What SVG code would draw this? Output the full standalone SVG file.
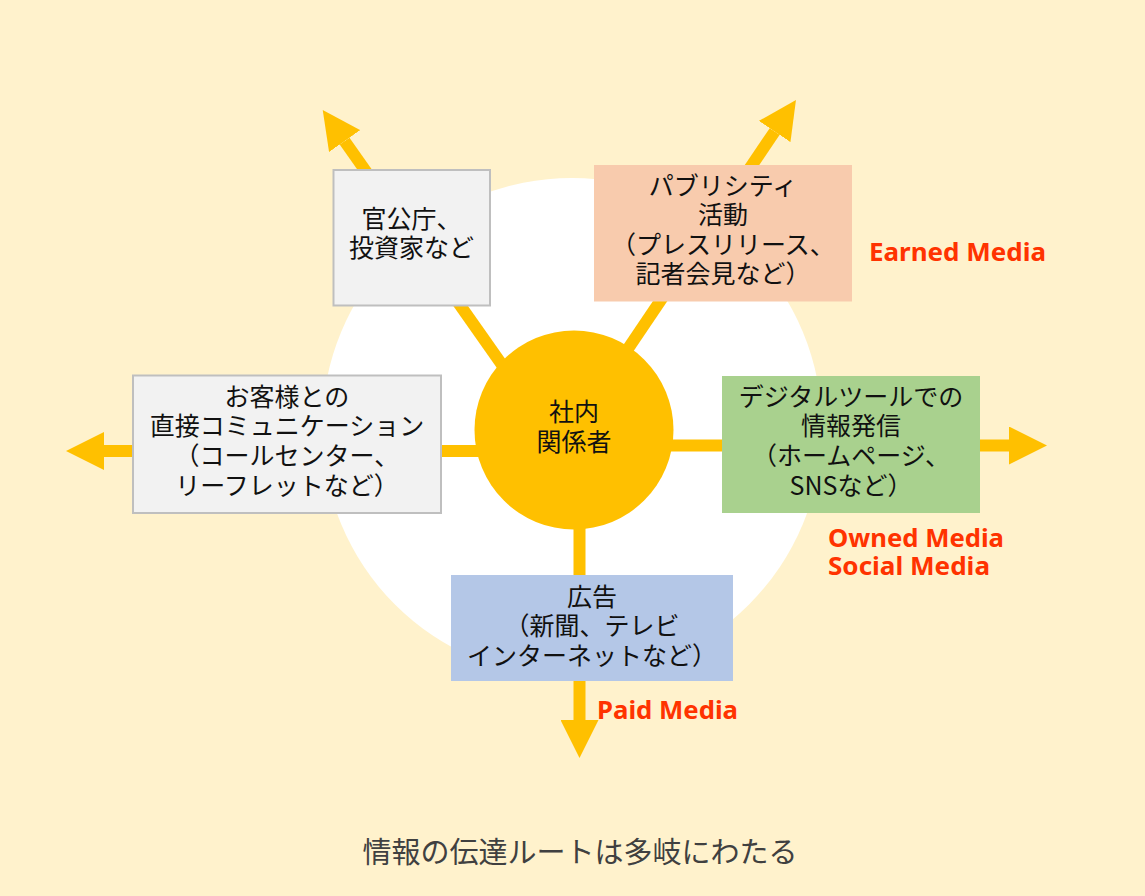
<svg xmlns="http://www.w3.org/2000/svg" width="1145" height="896" viewBox="0 0 1145 896">
  <style>
    .jp { font-family: "Noto Sans CJK JP", "Noto Sans", sans-serif; font-size: 25px; fill: #111111; text-anchor: middle; }
    .cap { font-family: "Noto Sans CJK JP", "Noto Sans", sans-serif; font-size: 29px; fill: #404040; text-anchor: middle; }
    .media { font-family: "Noto Sans", "Liberation Sans", sans-serif; font-weight: bold; font-size: 25px; fill: #FF3300; }
    .conn { stroke: #FFC000; stroke-width: 12; fill: none; marker-end: url(#head); }
    .grey { fill: #F2F2F2; stroke: #BFBFBF; stroke-width: 2; }
  </style>
  <defs>
    <marker id="head" viewBox="0 -19 38 38" refX="0" refY="0" markerWidth="38" markerHeight="38" markerUnits="userSpaceOnUse" orient="auto">
      <path d="M0,-19 L38,0 L0,19 Z" fill="#FFC000"/>
    </marker>
  </defs>
  <rect x="0" y="0" width="1145" height="896" fill="#FFF2CC"/>
  <circle cx="572" cy="428" r="250" fill="#FFFFFF"/>

  <g id="connectors">
    <line class="conn" x1="505.7" y1="370" x2="344.6" y2="141.1"/>
    <line class="conn" x1="617" y1="365" x2="774.7" y2="131.5"/>
    <line class="conn" x1="480" y1="451" x2="104" y2="451"/>
    <line class="conn" x1="670" y1="445.5" x2="1009" y2="445.5"/>
    <line class="conn" x1="579.5" y1="525" x2="579.5" y2="720"/>
  </g>

  <g id="node-center">
    <circle cx="574" cy="430" r="99.5" fill="#FFC000"/>
    <text class="jp" x="574" y="420.5">社内</text>
    <text class="jp" x="574" y="451">関係者</text>
  </g>

  <g id="node-government">
    <rect class="grey" x="333.5" y="170" width="156.5" height="135.5"/>
    <text class="jp" x="411.5" y="227.5">官公庁、</text>
    <text class="jp" x="411.5" y="257">投資家など</text>
  </g>

  <g id="node-publicity">
    <rect x="594" y="165" width="258" height="136.5" fill="#F8CBAD"/>
    <text class="jp" x="723" y="194.5">パブリシティ</text>
    <text class="jp" x="723" y="224">活動</text>
    <text class="jp" x="723" y="253.5">（プレスリリース、</text>
    <text class="jp" x="723" y="283">記者会見など）</text>
  </g>

  <g id="node-customer">
    <rect class="grey" x="133" y="375.5" width="308" height="137.5"/>
    <text class="jp" x="287" y="405.5">お客様との</text>
    <text class="jp" x="287" y="435">直接コミュニケーション</text>
    <text class="jp" x="287" y="465">（コールセンター、</text>
    <text class="jp" x="287" y="495">リーフレットなど）</text>
  </g>

  <g id="node-digital">
    <rect x="722" y="376" width="258" height="137" fill="#A9D18E"/>
    <text class="jp" x="851" y="406">デジタルツールでの</text>
    <text class="jp" x="851" y="435">情報発信</text>
    <text class="jp" x="851" y="465">（ホームページ、</text>
    <text class="jp" x="851" y="494.5">SNSなど）</text>
  </g>

  <g id="node-ad">
    <rect x="451" y="575" width="282" height="106" fill="#B4C7E7"/>
    <text class="jp" x="592" y="605.5">広告</text>
    <text class="jp" x="592" y="634.5">（新聞、テレビ</text>
    <text class="jp" x="592" y="664.5">インターネットなど）</text>
  </g>

  <g id="labels">
    <text class="media" x="869" y="260.7" textLength="177" lengthAdjust="spacingAndGlyphs">Earned Media</text>
    <text class="media" x="828" y="546.7" textLength="176" lengthAdjust="spacingAndGlyphs">Owned Media</text>
    <text class="media" x="828" y="575" textLength="162" lengthAdjust="spacingAndGlyphs">Social Media</text>
    <text class="media" x="597" y="719" textLength="141" lengthAdjust="spacingAndGlyphs">Paid Media</text>
  </g>

  <text class="cap" x="580" y="863">情報の伝達ルートは多岐にわたる</text>
</svg>
